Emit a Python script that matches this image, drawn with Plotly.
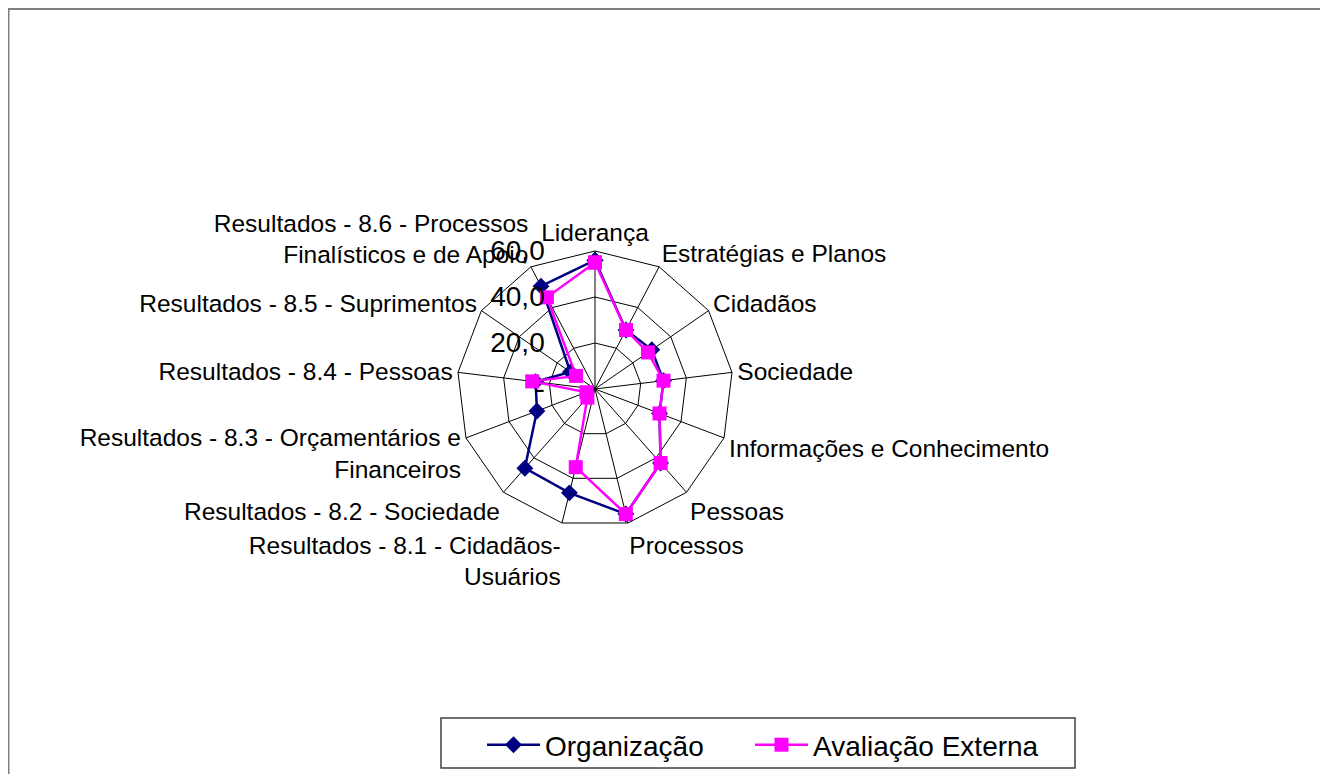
import plotly.graph_objects as go

categories = [
    "Liderança",
    "Estratégias e Planos",
    "Cidadãos",
    "Sociedade",
    "Informações e Conhecimento",
    "Pessoas",
    "Processos",
    "Resultados - 8.1 - Cidadãos-<br>Usuários",
    "Resultados - 8.2 - Sociedade",
    "Resultados - 8.3 - Orçamentários e<br>Financeiros",
    "Resultados - 8.4 - Pessoas",
    "Resultados - 8.5 - Suprimentos",
    "Resultados - 8.6 - Processos<br>Finalísticos e de Apoio",
]
organizacao = [56, 29, 30, 30, 30, 43, 56, 46.5, 46, 27, 26, 13, 50.5]
avaliacao_externa = [55, 29, 28, 30, 30, 43, 56, 35, 5, 4, 27.5, 10, 45]

radial_ticks = [0, 20, 40, 60]
radial_ticktext = ["-", "20,0", "40,0", "60,0"]

W, H = 1328, 774
OFF = 8  # page body margin


def px_x(X):
    return (X - OFF) / W


def px_y(Y):
    return 1 - (Y - OFF) / H


cx, cy, R = 595, 389, 138

fig = go.Figure()
cat_closed = categories + categories[:1]
fig.add_trace(go.Scatterpolar(
    r=organizacao + organizacao[:1], theta=cat_closed, name="Organização",
    mode="lines+markers",
    line=dict(color="#000080", width=2.5),
    marker=dict(symbol="diamond", size=13, color="#000080"),
    legend="legend", showlegend=True,
))
fig.add_trace(go.Scatterpolar(
    r=avaliacao_externa + avaliacao_externa[:1], theta=cat_closed, name="Avaliação Externa",
    mode="lines+markers",
    line=dict(color="#FF00FF", width=2.5),
    marker=dict(symbol="square", size=14, color="#FF00FF"),
    legend="legend2", showlegend=True,
))

legend_common = dict(
    orientation="h", xanchor="left", y=px_y(745), yanchor="middle",
    borderwidth=0, bgcolor="rgba(0,0,0,0)",
    font=dict(size=28), itemwidth=53,
)

fig.update_layout(
    width=W, height=H,
    showlegend=True,
    margin=dict(l=0, r=0, t=0, b=0),
    paper_bgcolor="white",
    plot_bgcolor="white",
    font=dict(family="Liberation Sans, Arial, sans-serif", color="black", size=24.5),
    polar=dict(
        domain=dict(x=[px_x(cx - R), px_x(cx + R)], y=[px_y(cy + R), px_y(cy - R)]),
        bgcolor="white",
        gridshape="linear",
        angularaxis=dict(
            direction="clockwise", rotation=90,
            showline=True, linecolor="black", linewidth=1,
            gridcolor="black", gridwidth=1,
            ticks="", tickfont=dict(size=24.5),
        ),
        radialaxis=dict(
            range=[0, 60], tickvals=radial_ticks, ticktext=radial_ticktext,
            angle=90, tickangle=90, side="counterclockwise",
            showline=False, ticks="outside", ticklen=40, tickcolor="rgba(0,0,0,0)",
            gridcolor="black", gridwidth=1,
            tickfont=dict(size=28),
        ),
    ),
    legend=dict(x=px_x(482), **legend_common),
    legend2=dict(x=px_x(750), **legend_common),
    shapes=[
        dict(type="rect", xref="paper", yref="paper",
             x0=px_x(8.5), x1=1.02, y0=-0.02, y1=px_y(9),
             line=dict(color="#808080", width=2)),
        dict(type="rect", xref="paper", yref="paper",
             x0=px_x(441), x1=px_x(1075), y0=px_y(768), y1=px_y(718),
             line=dict(color="#404040", width=1.5)),
    ],
)

fig.write_html("out.html")
